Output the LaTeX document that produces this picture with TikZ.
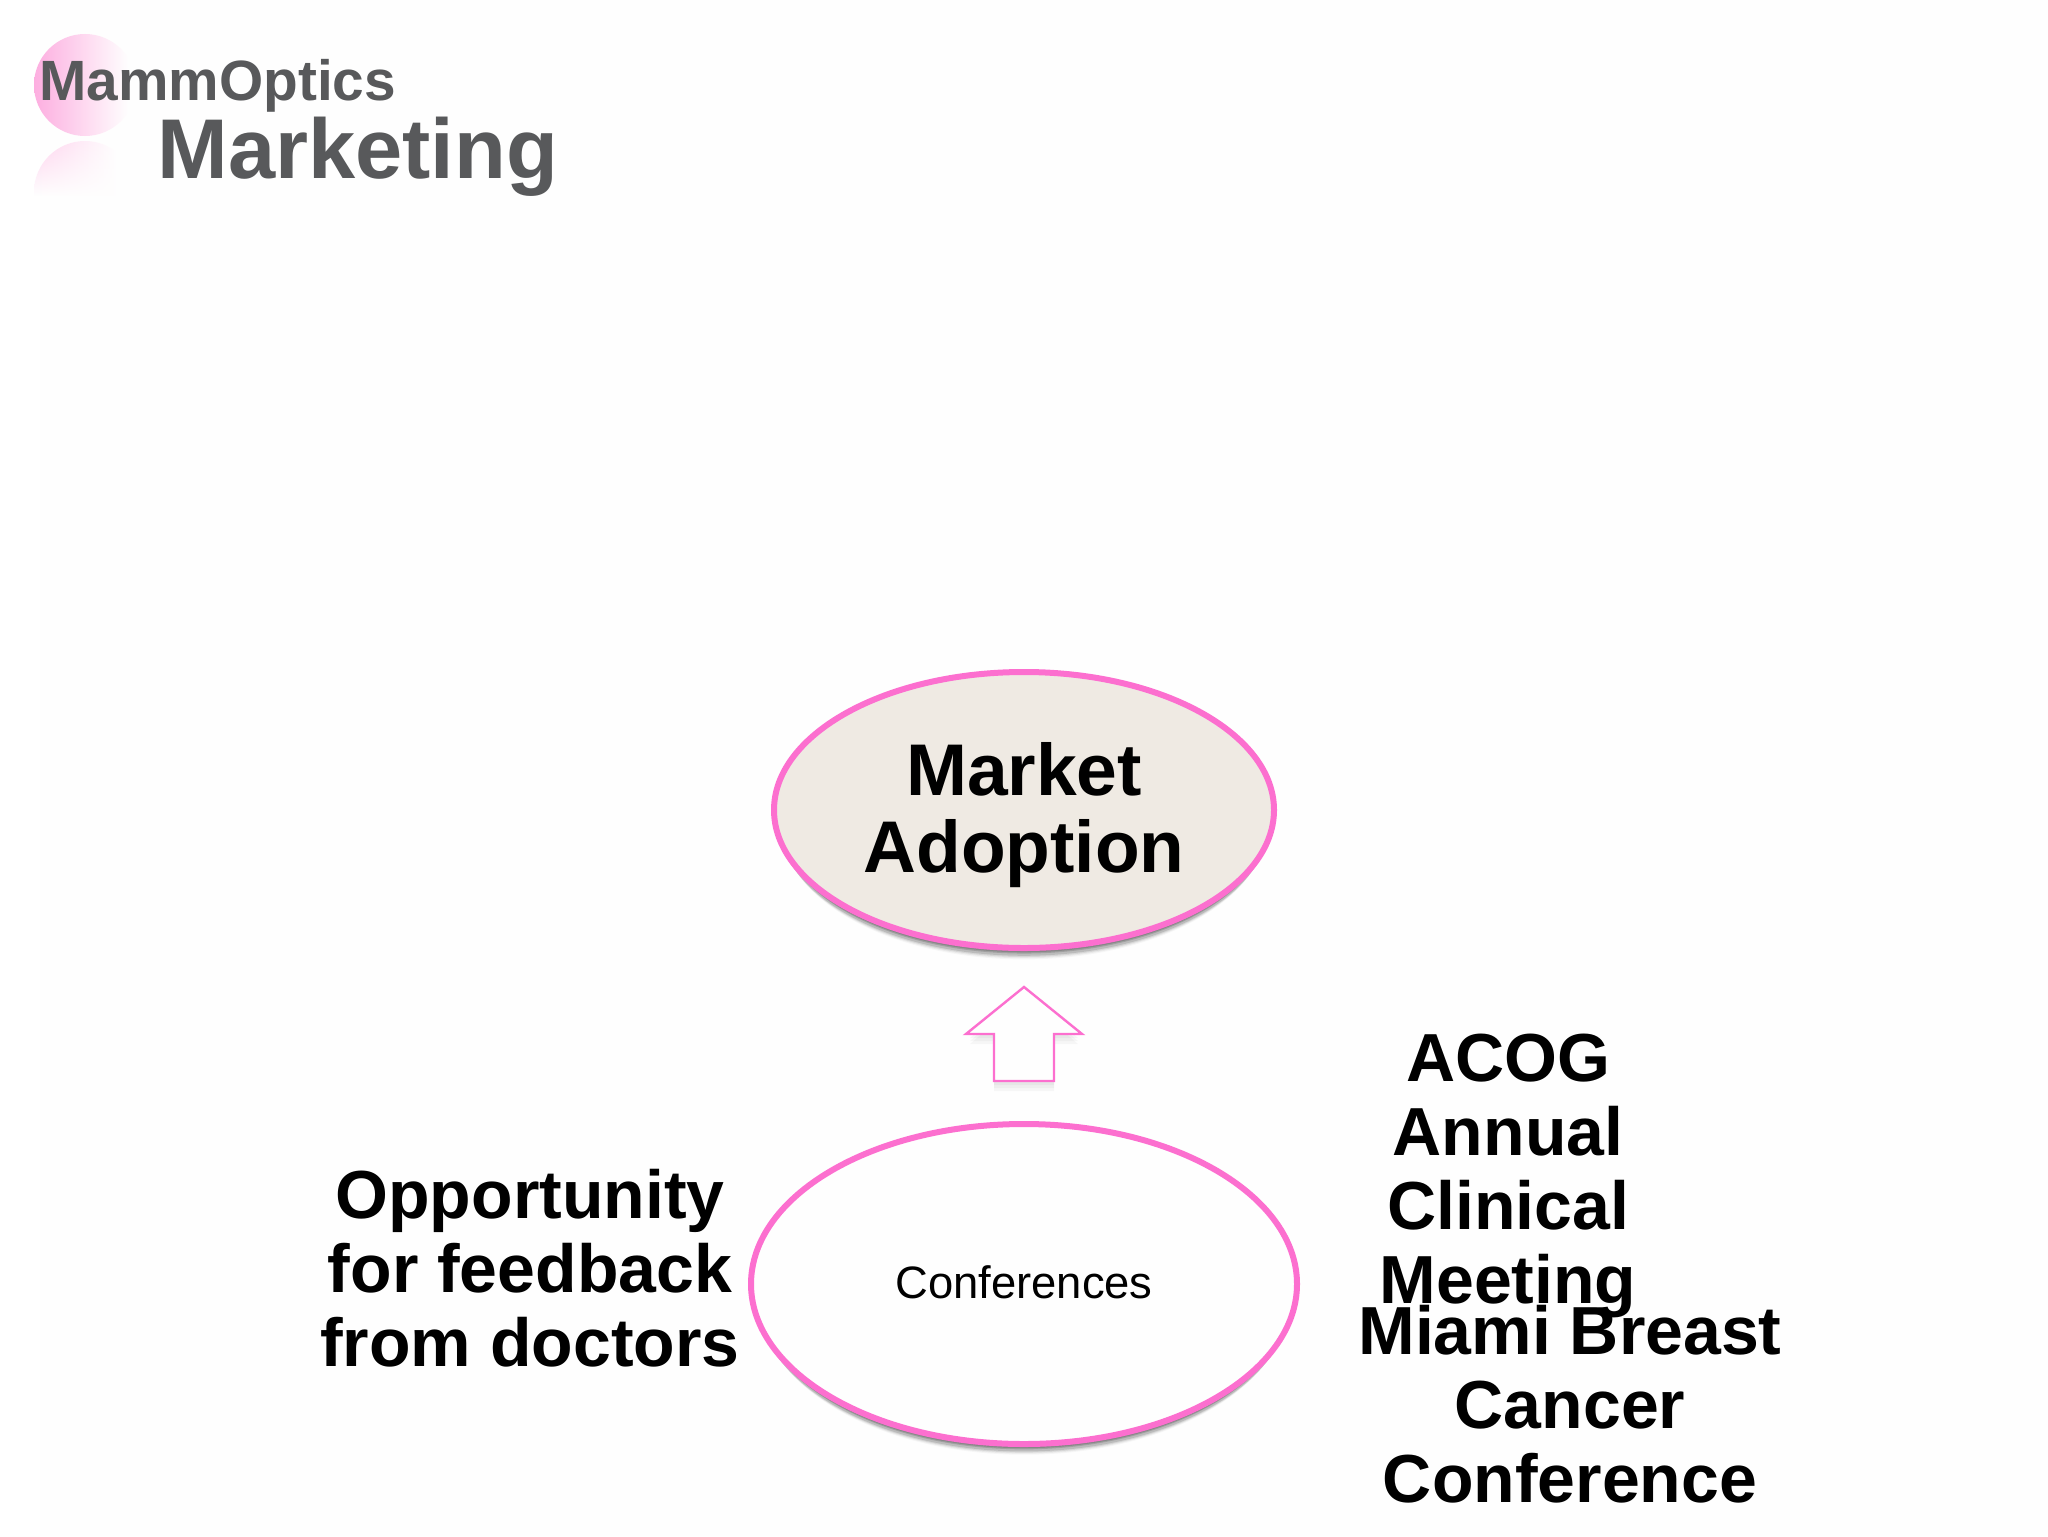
\documentclass[tikz,border=0pt]{standalone}
\usepackage{fontspec}
\setmainfont{Liberation Sans}
\usetikzlibrary{shapes.geometric,shadows,fadings}
\definecolor{bgc}{HTML}{FEFEFE}
\definecolor{pinkline}{HTML}{FC6FCF}
\definecolor{beige}{HTML}{EFEAE3}
\definecolor{greytext}{HTML}{58595B}
\definecolor{pinkball}{HTML}{FDAEE0}
\tikzset{
  softshadow/.style={
    general shadow={fill=black,opacity=.03,shadow yshift=-8pt,shadow scale=.97},
    general shadow={fill=black,opacity=.05,shadow yshift=-7pt,shadow scale=.975},
    general shadow={fill=black,opacity=.08,shadow yshift=-6pt,shadow scale=.98},
    general shadow={fill=black,opacity=.12,shadow yshift=-5pt,shadow scale=.985},
    general shadow={fill=black,opacity=.15,shadow yshift=-3.5pt,shadow scale=.99},
    general shadow={fill=black,opacity=.15,shadow yshift=-2.5pt,shadow scale=.995}},
  oval/.style={ellipse,draw=pinkline,line width=3pt,inner sep=0pt,softshadow},
  bigtext/.style={font=\bfseries\fontsize{34}{37}\selectfont,align=center,anchor=base,inner sep=0pt,text=black},
  logotext/.style={font=\bfseries,text=greytext,anchor=base west,inner sep=0pt},
  blockarrow/.style={draw=pinkline,line width=1.2pt,fill=bgc,line join=miter},
  arrowshade/.style={fill=black,opacity=.03,line join=round}
}
\begin{document}
\begin{tikzpicture}[x=0.5pt,y=-0.5pt]
\useasboundingbox (0,0) rectangle (2048,1536);
\fill[white] (0,0) rectangle (2048,1536);
\fill[bgc] (40,0) rectangle (2048,1536);
% logo ball and its reflection
\begin{scope}
  \clip (85,85) circle (51);
  \shade[left color=pinkball,right color=bgc] (34,34) rectangle (128,136);
\end{scope}
\begin{scope}
  \clip (85,192) circle (51);
  \shade[left color=pinkball!55!bgc,right color=bgc,path fading=south] (34,141) rectangle (116,196);
\end{scope}
\node[logotext,font=\bfseries\fontsize{28.4}{32}\selectfont] (brand) at (39,100) {MammOptics};
\node[logotext,font=\bfseries\fontsize{42.4}{46}\selectfont] (title) at (157,178) {Marketing};
% market adoption
\node[oval,fill=beige,minimum width=250pt,minimum height=138pt] (market) at (1024,810) {};
\node[bigtext,font=\bfseries\fontsize{36.6}{38.5}\selectfont] (markettext) at (1024,872) {Market\\Adoption};
% arrow
\foreach \d in {4,7,10}{
  \path[arrowshade] (1024,987+\d) -- (1078,1034+\d) -- (1054,1034+\d) -- (1054,1081+\d) -- (994,1081+\d) -- (994,1034+\d) -- (970,1034+\d) -- cycle;
}
\draw[blockarrow] (1024,987) -- (1082,1034) -- (1054,1034) -- (1054,1081) -- (994,1081) -- (994,1034) -- (966,1034) -- cycle;
% conferences
\node[oval,fill=bgc,minimum width=273pt,minimum height=160pt] (conf) at (1024,1284) {};
\node[font=\fontsize{22.7}{26}\selectfont,anchor=base,inner sep=0pt] (conftext) at (1024,1298) {Conferences};
% side texts
\node[bigtext] (feedback) at (530,1366) {Opportunity\\for feedback\\from doctors};
\node[bigtext] (acog) at (1508,1303) {ACOG\\Annual\\Clinical\\Meeting};
\node[bigtext] (miami) at (1570,1502) {Miami Breast\\Cancer\\Conference};
\end{tikzpicture}
\end{document}
